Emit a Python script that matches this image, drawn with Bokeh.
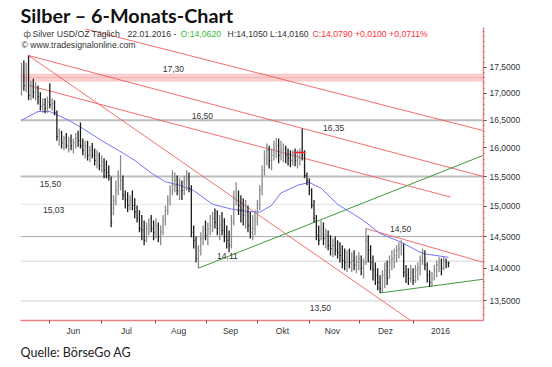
from bokeh.plotting import figure
from bokeh.models import Range1d, FixedTicker, Label, BoxAnnotation, Title
from bokeh.embed import file_html
from bokeh.resources import INLINE

# ---- data: daily bars (index 0 = mid May 2015 ... last = 22.01.2016) ----
high = [17.59,17.63,17.59,17.73,17.24,17.28,17.21,17.15,17.02,16.91,
        16.91,16.94,17.19,16.91,16.87,16.68,16.35,16.31,16.22,16.27,
        16.20,16.24,16.17,16.27,16.31,16.46,16.17,16.13,16.13,16.04,
        16.09,15.99,15.96,15.92,15.87,15.82,15.78,15.69,15.50,15.18,
        15.43,15.61,15.87,15.52,15.26,15.23,15.18,15.26,15.13,15.01,
        14.93,14.85,14.76,14.73,14.80,14.85,14.76,14.80,14.73,14.68,
        14.85,15.01,15.18,15.35,15.61,15.57,15.52,15.47,15.43,15.52,
        15.61,15.57,15.35,14.68,14.50,14.36,14.57,14.68,14.76,14.73,
        14.85,14.90,14.96,14.93,14.85,14.90,14.80,14.68,14.60,14.85,
        15.26,15.40,15.26,15.18,15.13,15.10,15.01,14.90,14.85,14.93,
        15.10,15.35,15.69,15.96,16.08,16.04,15.99,16.13,16.18,16.17,
        16.13,16.08,16.04,15.99,15.96,15.96,15.99,15.96,15.99,16.35,
        15.96,15.57,15.47,15.30,15.10,14.85,14.68,14.76,14.73,14.63,
        14.60,14.52,14.47,14.50,14.44,14.41,14.36,14.31,14.28,14.31,
        14.25,14.28,14.20,14.25,14.20,14.15,14.63,14.52,14.36,14.20,
        14.09,14.00,13.89,13.97,14.09,14.12,14.20,14.28,14.31,14.36,
        14.41,14.44,14.39,14.05,14.00,14.05,14.00,14.05,14.09,14.20,
        14.31,14.28,14.09,13.97,13.94,14.05,14.12,14.17,14.15,14.18,
        14.15,14.105]
low = [16.96,17.05,17.02,16.87,16.87,16.91,16.87,16.79,16.68,16.64,
       16.63,16.64,16.72,16.68,16.59,16.13,16.04,15.99,15.96,15.99,
       15.92,15.96,15.90,15.99,16.02,15.99,15.87,15.82,15.78,15.75,
       15.82,15.69,15.64,15.61,15.57,15.47,15.47,15.43,14.65,14.85,
       15.01,15.18,15.26,15.10,14.96,14.90,14.93,14.93,14.80,14.73,
       14.57,14.44,14.36,14.41,14.52,14.57,14.44,14.47,14.41,14.36,
       14.52,14.68,14.85,15.01,15.18,15.23,15.18,15.10,15.10,15.18,
       15.26,15.23,14.49,14.31,14.09,14.00,14.20,14.36,14.44,14.36,
       14.52,14.57,14.63,14.52,14.44,14.52,14.41,14.31,14.25,14.31,
       14.68,15.01,14.85,14.73,14.68,14.63,14.57,14.47,14.44,14.52,
       14.68,14.93,15.18,15.52,15.69,15.64,15.61,15.78,15.82,15.73,
       15.78,15.75,15.73,15.69,15.66,15.69,15.68,15.64,15.69,15.78,
       15.47,15.35,15.18,14.96,14.73,14.44,14.36,14.44,14.36,14.31,
       14.28,14.20,14.17,14.20,14.15,14.09,14.00,13.97,13.94,14.00,
       13.94,13.97,13.92,13.97,13.89,13.84,14.05,14.09,13.97,13.81,
       13.74,13.66,13.62,13.63,13.69,13.74,13.84,13.97,14.00,14.09,
       14.15,14.20,13.86,13.77,13.74,13.78,13.74,13.77,13.81,13.89,
       14.05,13.97,13.78,13.71,13.71,13.81,13.86,13.94,13.89,13.97,
       14.00,14.016]
close = [17.44,17.15,17.53,16.96,17.15,17.02,17.09,16.94,16.75,16.79,
         16.72,16.83,16.79,16.81,16.64,16.20,16.27,16.09,16.17,16.04,
         16.13,16.04,16.09,16.17,16.13,16.04,15.96,16.04,15.87,15.96,
         15.87,15.78,15.87,15.69,15.75,15.61,15.57,15.52,14.73,15.10,
         15.26,15.35,15.43,15.18,15.10,15.01,15.10,15.01,14.90,14.80,
         14.63,14.60,14.44,14.63,14.68,14.63,14.57,14.68,14.50,14.57,
         14.76,14.93,15.10,15.26,15.35,15.43,15.26,15.35,15.26,15.43,
         15.47,15.30,14.57,14.44,14.15,14.28,14.47,14.60,14.52,14.63,
         14.68,14.80,14.73,14.63,14.68,14.60,14.50,14.44,14.36,14.73,
         15.13,15.18,15.01,14.93,14.85,14.90,14.68,14.57,14.63,14.76,
         15.01,15.26,15.61,15.82,15.96,15.78,15.87,15.99,16.04,15.87,
         15.96,15.99,15.87,15.82,15.78,15.87,15.78,15.82,15.92,15.87,
         15.52,15.43,15.26,15.01,14.80,14.52,14.44,14.63,14.47,14.52,
         14.36,14.31,14.36,14.28,14.25,14.20,14.12,14.09,14.15,14.09,
         14.12,14.05,14.09,14.15,14.00,14.09,14.44,14.28,14.09,13.97,
         13.89,13.78,13.69,13.89,13.97,13.84,14.09,14.15,14.20,14.28,
         14.31,14.36,13.94,13.89,13.84,13.94,13.81,13.97,14.00,14.12,
         14.25,14.05,13.89,13.78,13.84,13.97,14.05,14.09,14.00,14.12,
         14.09,14.079]

# moving average
ma_idx = [0, 7, 12, 20, 26, 34, 41, 48, 55, 61, 67, 73, 81, 89, 96, 101, 106,
          110, 117, 122, 127, 134, 141, 145, 152, 161, 170, 181]
ma_val = [16.50, 16.66, 16.66, 16.50, 16.35, 16.13, 15.96, 15.78, 15.56, 15.41,
          15.35, 15.26, 15.03, 14.95, 14.91, 14.90, 15.01, 15.22, 15.35, 15.40,
          15.30, 15.03, 14.86, 14.76, 14.55, 14.41, 14.23, 14.17]

# trend lines (start index, start price, end index, end price)
red_x0 = [27.1, 3, 3, 3, 146]
red_y0 = [18.26, 17.73, 17.73, 17.15, 14.63]
red_x1 = [195.85, 195.85, 165, 182, 195.85]
red_y1 = [16.31, 15.50, 13.21, 15.15, 14.09]
green_x0 = [75, 152]
green_y0 = [14.00, 13.62]
green_x1 = [195.85, 195.85]
green_y1 = [15.87, 13.83]

# horizontal levels
levels = [16.50, 15.50, 15.03, 14.50, 14.11, 13.50]
level_colors = ["#bdbdbd", "#bdbdbd", "#e4e4e4", "#a9a9a9", "#d4d4d4", "#cfcfcf"]
level_widths = [2, 2, 1, 1, 1, 1]
band_level = 17.30
level_text = ["17,30", "16,50", "16,35", "15,50", "15,03", "14,50", "14,11", "13,50"]
level_text_x = [64.4, 76.7, 132.3, 12.3, 13.6, 160.7, 87.3, 126.7]
level_text_y = [17.47, 16.57, 16.36, 15.38, 14.93, 14.63, 14.19, 13.39]

# axis
month_names = ["Jun", "Jul", "Aug", "Sep", "Okt", "Nov", "Dez", "2016"]
month_label_pos = [22.0, 44.5, 66.6, 88.6, 110.6, 131.8, 154.3, 177.6]
month_bounds = [11.9, 33.9, 56.8, 78.4, 100.0, 122.1, 143.3, 166.2]
price_ticks = [13.5, 14.0, 14.5, 15.0, 15.5, 16.0, 16.5, 17.0, 17.5]
price_tick_labels = ["13,5000", "14,0000", "14,5000", "15,0000", "15,5000",
                     "16,0000", "16,5000", "17,0000", "17,5000"]
last_close_text = "14,0790"

FONT = "Liberation Sans"

p = figure(width=552, height=367, output_backend="svg", toolbar_location=None,
           title="Silber \u2013 6-Monats-Chart",
           y_axis_type="log", y_axis_location="right",
           x_range=Range1d(-0.42, 195.85), y_range=Range1d(13.21, 18.29),
           min_border_left=20, min_border_right=69, min_border_top=27,
           min_border_bottom=47)
p.outline_line_color = None
p.xgrid.visible = False
p.ygrid.visible = False
p.background_fill_color = "white"
p.border_fill_color = "white"

p.title.align = "left"
p.title.text_font = "Lato"
p.title.text_font_size = "19.8px"
p.title.text_font_style = "bold"
p.title.text_color = "#111111"
p.title.standoff = 1
p.title.offset = 0

p.add_layout(Title(text="Quelle: B\u00f6rseGo AG", align="left", text_font="Lato",
                   text_font_size="12.5px", text_font_style="normal",
                   text_color="#222222", standoff=9), "below")

# axes
p.xaxis.ticker = FixedTicker(ticks=month_label_pos, minor_ticks=month_bounds)
p.xaxis.major_label_overrides = {k: v for k, v in zip(month_label_pos, month_names)}
p.xaxis.major_tick_line_color = None
p.xaxis.major_tick_out = 0
p.xaxis.major_tick_in = 0
p.xaxis.minor_tick_line_color = "#555555"
p.xaxis.minor_tick_out = 3
p.xaxis.minor_tick_in = 0
p.xaxis.axis_line_color = "#f28080"
p.xaxis.axis_line_width = 1.5
p.xaxis.major_label_text_font = FONT
p.xaxis.major_label_text_font_size = "8.5px"
p.xaxis.major_label_text_color = "#333333"
p.xaxis.major_label_standoff = 2

minor_p = [round(13.3 + 0.1 * k, 1) for k in range(50)]
p.yaxis.ticker = FixedTicker(ticks=price_ticks, minor_ticks=minor_p)
p.yaxis.major_label_overrides = {k: v for k, v in zip(price_ticks, price_tick_labels)}
p.yaxis.axis_line_color = "#f28080"
p.yaxis.axis_line_width = 1.5
p.yaxis.major_tick_line_color = "#444444"
p.yaxis.major_tick_out = 3
p.yaxis.major_tick_in = 0
p.yaxis.minor_tick_line_color = "#777777"
p.yaxis.minor_tick_out = 1
p.yaxis.minor_tick_in = 0
p.yaxis.major_label_text_font = FONT
p.yaxis.major_label_text_font_size = "8.5px"
p.yaxis.major_label_text_color = "#333333"
p.yaxis.major_label_standoff = 3

# band and horizontal levels
p.add_layout(BoxAnnotation(bottom=17.23, top=17.37, fill_color="#fbd0d0",
                           fill_alpha=1.0, line_color="#f4a4a4", line_width=1,
                           level="underlay"))
p.line([-0.42, 195.85], [band_level, band_level], color="#f6b0b0", line_width=1)
for lv, c, w in zip(levels, level_colors, level_widths):
    p.line([-0.42, 195.85], [lv, lv], color=c, line_width=w)

# trend lines
p.segment(red_x0, red_y0, red_x1, red_y1, color="#f25555", line_width=1, line_alpha=0.85)
p.segment(green_x0, green_y0, green_x1, green_y1, color="#3c9c3c", line_width=1)

# moving average
p.line(ma_idx, ma_val, color="#7272ff", line_width=1)

# bars
idx = list(range(len(close)))
colors = ["#8a8a8a"] + ["#1c1c1c" if close[i] < close[i - 1] else "#8a8a8a"
                        for i in range(1, len(close))]
p.segment(idx, low, idx, high, color=colors, line_width=1.3)
p.segment(idx, close, [i + 0.45 for i in idx], close, color=colors, line_width=1)

# red marker at the October range
p.line([115.3, 120.4], [15.92, 15.92], color="#ff2020", line_width=1.5)

# level labels
for t, x, y in zip(level_text, level_text_x, level_text_y):
    p.add_layout(Label(x=x, y=y, text=t, text_font=FONT, text_font_size="8.5px",
                       text_color="#333333", text_align="center",
                       text_baseline="middle"))

# header texts (screen units relative to the frame)
def slabel(sx, sy, text, size="8.7px", color="#333333", font=FONT, style="normal",
           baseline="middle", align="left"):
    p.add_layout(Label(x=sx, y=sy, x_units="screen", y_units="screen", text=text,
                       text_font=font, text_font_size=size, text_color=color,
                       text_font_style=style, text_baseline=baseline,
                       text_align=align))

slabel(3, 286.5, "\u0444", size="9px", color="#555555")
slabel(12, 286.5, "Silver USD/OZ T\u00e4glich")
slabel(107, 286.5, "22.01.2016 -")
slabel(160, 286.5, "O:14,0620", color="#33bb33")
slabel(207, 286.5, "H:14,1050  L:14,0160")
slabel(292, 286.5, "C:14,0790 +0,0100 +0,0711%", color="#ff3030")
slabel(1, 275.5, "\u00a9 www.tradesignalonline.com")
slabel(467, 285, "$", size="9px", color="#222222")
p.add_layout(Label(x=466, y=56.5, x_units="screen", y_units="screen",
                   text=last_close_text, text_font=FONT, text_font_size="8.5px",
                   text_color="#222222", text_baseline="middle",
                   border_line_color="#333333", background_fill_color="white",
                   padding=1))

open("out.html", "w").write(file_html(p, INLINE))
